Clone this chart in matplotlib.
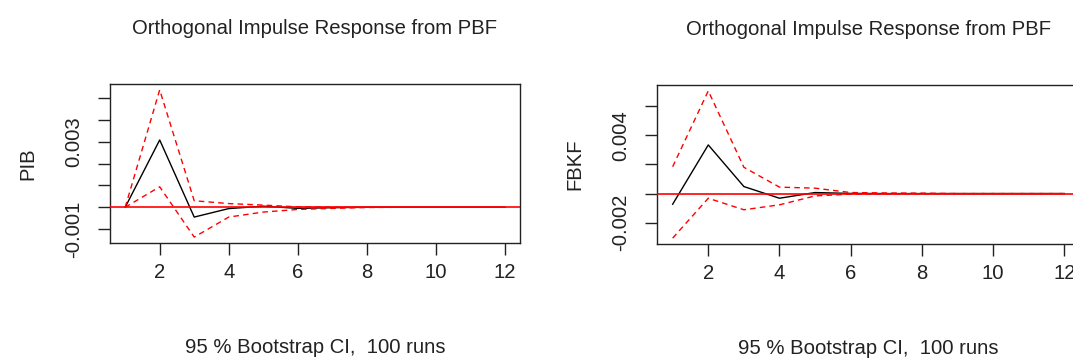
import matplotlib
matplotlib.use("Agg")
import matplotlib.pyplot as plt
import numpy as np

plt.rcParams['font.family'] = ['Liberation Sans', 'DejaVu Sans']

steps = list(range(1, 13))

# Response of PIB to an orthogonal shock in PBF
pib_irf = [0.0, 0.00309, -0.00045, -0.00006, 0.00005, -0.00005, -0.00002, 0.0, 0.0, 0.0, 0.0, 0.0]
pib_upper = [0.0, 0.00539, 0.00030, 0.00017, 0.00010, 0.00002, 0.00001, 0.0, 0.0, 0.0, 0.0, 0.0]
pib_lower = [0.0, 0.00094, -0.00137, -0.00045, -0.00022, -0.00010, -0.00005, -0.00001, 0.0, 0.0, 0.0, 0.0]

# Response of FBKF to an orthogonal shock in PBF
fbkf_irf = [-0.00073, 0.00333, 0.00048, -0.00032, 0.00007, 0.00001, 0.0, 0.0, 0.0, 0.0, 0.0, 0.0]
fbkf_upper = [0.00184, 0.00703, 0.00180, 0.00044, 0.00037, 0.00007, 0.00004, 0.00003, 0.0, 0.0, 0.0, 0.0]
fbkf_lower = [-0.00305, -0.00032, -0.00111, -0.00077, -0.00016, -0.00004, -0.00002, -0.00001, 0.0, 0.0, 0.0, 0.0]

panels = [
    dict(name="PIB", irf=pib_irf, upper=pib_upper, lower=pib_lower,
         yticks=[-0.001, 0.0, 0.001, 0.002, 0.003, 0.004, 0.005],
         ylabels={-0.001: "-0.001", 0.003: "0.003"},
         rect=[110 / 1073, 1 - 243 / 358, 410 / 1073, 159 / 358]),
    dict(name="FBKF", irf=fbkf_irf, upper=fbkf_upper, lower=fbkf_lower,
         yticks=[-0.002, 0.0, 0.002, 0.004, 0.006],
         ylabels={-0.002: "-0.002", 0.004: "0.004"},
         rect=[657 / 1073, 1 - 244 / 358, 423 / 1073, 159 / 358]),
]

title = "Orthogonal Impulse Response from PBF"
subtitle = "95 % Bootstrap CI,  100 runs"
xticks = [2, 4, 6, 8, 10, 12]
fs = 14.6
ink = "#222222"

fig = plt.figure(figsize=(10.73, 3.58), dpi=100)

for p in panels:
    ax = fig.add_axes(p["rect"])
    x = np.array(steps)
    ax.plot(x, p["irf"], color="black", lw=1.0, zorder=2)
    ax.plot(x, p["upper"], color="red", lw=1.0, ls=(0, (4, 3)), zorder=2)
    ax.plot(x, p["lower"], color="red", lw=1.0, ls=(0, (4, 3)), zorder=2)
    ax.axhline(0, color="red", lw=1.2, zorder=3)

    allv = np.concatenate([p["irf"], p["upper"], p["lower"]])
    lo, hi = allv.min(), allv.max()
    pad = 0.04 * (hi - lo)
    ax.set_ylim(lo - pad, hi + pad)
    ax.set_xlim(1 - 0.04 * 11, 12 + 0.04 * 11)

    ax.set_xticks(xticks)
    ax.set_xticklabels([str(t) for t in xticks])
    ax.set_yticks(p["yticks"])
    ax.set_yticklabels([p["ylabels"].get(round(t, 3), "") for t in p["yticks"]],
                       rotation=90, va="center")
    ax.tick_params(axis="both", direction="out", length=8.5, width=1.0,
                   labelsize=fs, colors=ink)
    ax.tick_params(axis="x", pad=6)
    ax.tick_params(axis="y", pad=11)
    for s in ax.spines.values():
        s.set_linewidth(1.0)
        s.set_color(ink)

    ax.set_ylabel(p["name"], fontsize=fs, labelpad=19, color=ink)
    ax.set_title(title, fontsize=fs, pad=36, color=ink)
    ax.set_xlabel(subtitle, fontsize=fs, labelpad=40.5, color=ink)

fig.savefig("out.png", dpi=100, facecolor="white")
